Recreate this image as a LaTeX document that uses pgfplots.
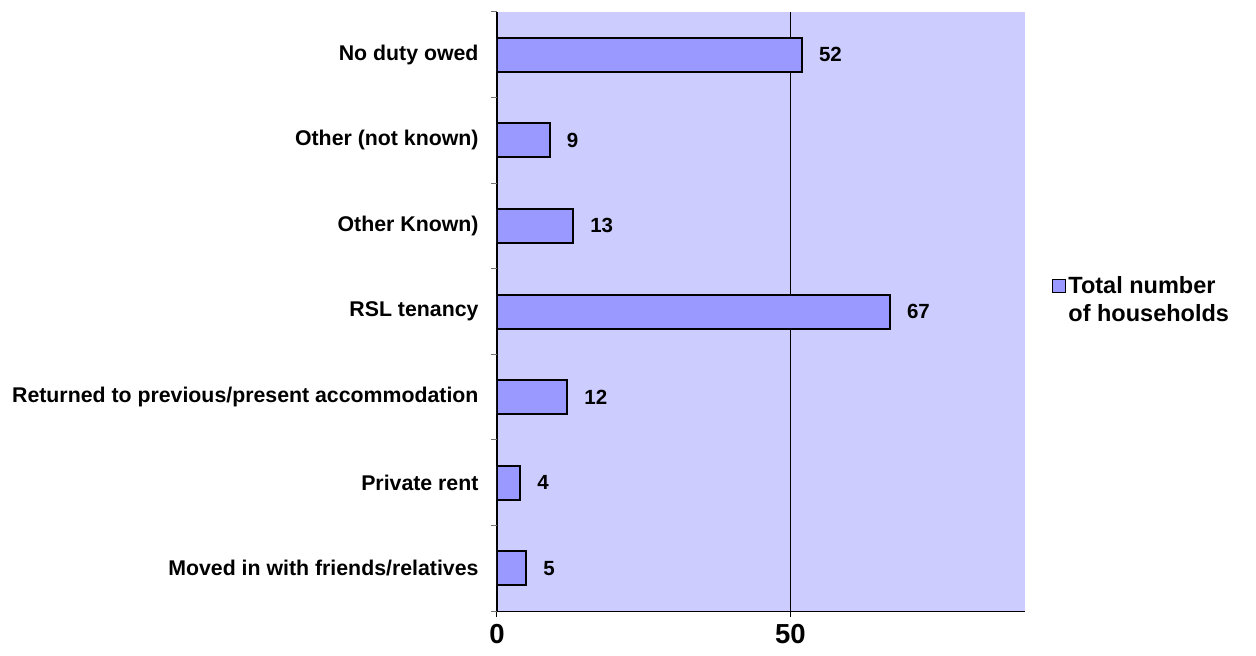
\documentclass[border=0pt]{standalone}
\usepackage{pgfplots}
\pgfplotsset{compat=1.18}
\usepackage{fontspec}
\setmainfont{Liberation Sans}
\definecolor{barfill}{HTML}{9999FF}
\definecolor{bgfill}{HTML}{CCCCFF}
\begin{document}
\begin{tikzpicture}
\begin{axis}[
  scale only axis, width=528bp, height=599bp,
  xbar, bar width=34bp,
  xmin=0, xmax=90, ymin=-0.5, ymax=6.5,
  axis background/.style={fill=bgfill},
  axis x line*=bottom, axis y line*=left,
  axis line style={line width=1bp, black},
  xtick={0,50}, xmajorgrids, major grid style={black, line width=0.8bp},
  x tick style={black, line width=1bp}, tick align=outside, major tick length=6bp,
  xticklabel style={font=\bfseries\fontsize{27.5bp}{30bp}\selectfont, yshift=-4bp},
  /pgf/number format/assume math mode=true,
  ytick={0,...,6},
  yticklabels={Moved in with friends/relatives, Private rent, Returned to previous/present accommodation, RSL tenancy, Other Known), Other (not known), No duty owed},
  y tick style={draw=none},
  yticklabel style={font=\bfseries\fontsize{21.3bp}{24bp}\selectfont, xshift=-9bp},
  extra y ticks={-0.5,0.5,...,6.5}, extra y tick labels={},
  extra y tick style={y tick style={draw=black!55, line width=1bp}},
  nodes near coords,
  nodes near coords style={anchor=west, inner sep=0pt, xshift=16bp, font=\bfseries\fontsize{20.5bp}{24bp}\selectfont},
  legend style={at={(1.045,0.52)}, anchor=west, draw=none, fill=none,
    font=\bfseries\fontsize{23.5bp}{28bp}\selectfont, cells={align=left}},
  legend image code/.code={\draw[#1, line width=1.5bp] (0bp,7bp) rectangle (13bp,20bp);},
]
\addplot[fill=barfill, draw=black, line width=2bp] coordinates {
(5,0) (4,1) (12,2) (67,3) (13,4) (9,5) (52,6)
};
\addlegendentry{Total number\\of households}
\end{axis}
\pgfresetboundingbox
\path ([xshift=-497bp,yshift=-44bp]current axis.south west) rectangle ([xshift=231bp,yshift=12bp]current axis.north east);
\end{tikzpicture}
\end{document}
